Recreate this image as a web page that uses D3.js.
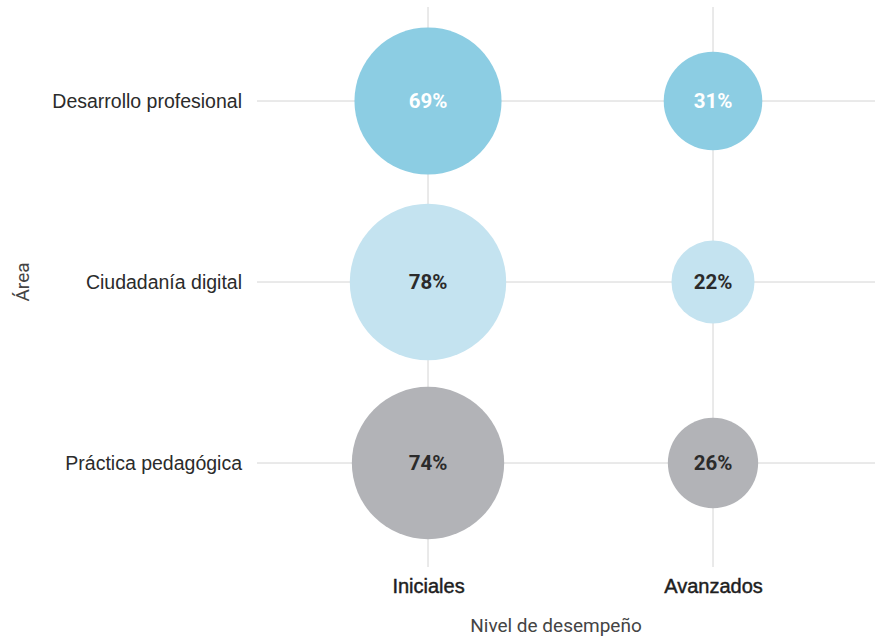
<!DOCTYPE html>
<html>
<head>
<meta charset="utf-8">
<script src="https://cdn.jsdelivr.net/npm/d3@7"></script>
<style>
  body { margin: 0; background: #fff; }
  svg { font-family: "Roboto", "Noto Sans", sans-serif; display: block; }
</style>
</head>
<body>
<div id="chart"></div>
<script>
// data
var areas = ["Desarrollo profesional", "Ciudadanía digital", "Práctica pedagógica"];
var levels = ["Iniciales", "Avanzados"];
var iniciales = [69, 78, 74];
var avanzados = [31, 22, 26];
var areaColors = ["#8ccde3", "#c4e3f0", "#b2b3b7"];
var labelColors = ["#ffffff", "#2b2b2b", "#2b2b2b"];

var width = 875;
var height = 636;

var svg = d3.select("#chart")
    .append("svg")
    .attr("width", width)
    .attr("height", height);

// scales
var x = d3.scalePoint()
    .domain(levels)
    .range([428, 713]);

var y = d3.scalePoint()
    .domain(areas)
    .range([101, 463]);

var r = d3.scaleSqrt()
    .domain([0, 78])
    .range([0, 78.2]);

var color = d3.scaleOrdinal(areas, areaColors);
var textColor = d3.scaleOrdinal(areas, labelColors);

var cells = [];
areas.forEach(function (a, i) {
    cells.push({ area: a, level: levels[0], value: iniciales[i] });
    cells.push({ area: a, level: levels[1], value: avanzados[i] });
});

// grid
svg.append("g")
    .selectAll("line")
    .data(levels)
    .join("line")
    .attr("x1", d => x(d))
    .attr("x2", d => x(d))
    .attr("y1", 7)
    .attr("y2", 567)
    .attr("stroke", "#d4d4d4")
    .attr("stroke-width", 1);

svg.append("g")
    .selectAll("line")
    .data(areas)
    .join("line")
    .attr("x1", 257)
    .attr("x2", width)
    .attr("y1", d => y(d))
    .attr("y2", d => y(d))
    .attr("stroke", "#d4d4d4")
    .attr("stroke-width", 1);

// axes
var yAxis = d3.axisLeft(y).tickSize(0).tickPadding(15);
var gy = svg.append("g")
    .attr("transform", "translate(257,0)")
    .call(yAxis);
gy.select(".domain").remove();
gy.selectAll("text")
    .style("font-size", "19.5px")
    .style("fill", "#2b2b2b");

var xAxis = d3.axisBottom(x).tickSize(0).tickPadding(0);
var gx = svg.append("g")
    .attr("transform", "translate(0,579)")
    .call(xAxis);
gx.select(".domain").remove();
// medium weight look
gx.selectAll("text")
    .style("font-size", "20px")
    .style("fill", "#1e1e1e")
    .style("stroke", "#1e1e1e")
    .style("stroke-width", "0.45px");

// axis titles
svg.append("text")
    .attr("x", 556)
    .attr("y", 632)
    .attr("text-anchor", "middle")
    .style("font-size", "19px")
    .style("fill", "#444")
    .text("Nivel de desempeño");

svg.append("text")
    .attr("transform", "translate(29,282) rotate(-90)")
    .attr("text-anchor", "middle")
    .style("font-size", "19px")
    .style("fill", "#444")
    .text("Área");

// bubbles
var g = svg.append("g")
    .selectAll("g")
    .data(cells)
    .join("g")
    .attr("transform", d => "translate(" + x(d.level) + "," + y(d.area) + ")");

g.append("circle")
    .attr("r", d => r(d.value))
    .attr("fill", d => color(d.area));

g.append("text")
    .attr("text-anchor", "middle")
    .attr("dy", "0.36em")
    .style("font-size", "20.5px")
    .style("font-weight", "bold")
    .style("fill", d => textColor(d.area))
    .text(d => d.value + "%");
</script>
</body>
</html>
